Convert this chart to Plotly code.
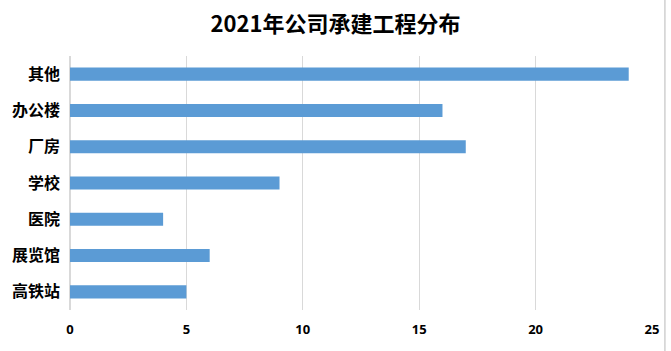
import plotly.graph_objects as go

categories = ["其他", "办公楼", "厂房", "学校", "医院", "展览馆", "高铁站"]
values = [24, 16, 17, 9, 4, 6, 5]
x_ticks = [0, 5, 10, 15, 20, 25]
title = "2021年公司承建工程分布"

fig = go.Figure(go.Bar(
    x=values, y=categories, orientation="h",
    marker=dict(color="#5B9BD5", line=dict(width=0)),
))

fig.update_layout(
    width=671, height=351,
    margin=dict(l=69, r=16, t=56, b=41),
    paper_bgcolor="white", plot_bgcolor="white",
    bargap=0.64,
    showlegend=False,
    title=dict(text="<b>" + title + "</b>", x=0.5, xanchor="center", y=0.93, yanchor="middle",
               font=dict(family="Noto Sans CJK SC, Liberation Sans", size=22, color="#000000")),
    font=dict(family="Noto Sans CJK SC", color="#000000"),
)
fig.update_xaxes(range=[0, 25], tickvals=x_ticks, showgrid=True, gridcolor="#D9D9D9", gridwidth=1,
                 zeroline=True, zerolinecolor="#D9D9D9", showline=False, ticks="",
                 tickfont=dict(family="Open Sans, Liberation Sans", size=13, color="#000000", weight="bold"),
                 ticklabelstandoff=10)
fig.update_yaxes(categoryorder="array", categoryarray=categories[::-1], showgrid=False, showline=False,
                 ticks="", ticklabelstandoff=9,
                 tickfont=dict(family="Noto Sans CJK SC", size=16, color="#000000", weight="bold"))

fig.add_shape(type="line", xref="paper", yref="paper",
              x0=(668 - 69) / (671 - 69 - 16), x1=(668 - 69) / (671 - 69 - 16),
              y0=-41 / 254, y1=(254 + 56) / 254, line=dict(color="#D0D0D0", width=1.5))

fig.write_html("out.html")
